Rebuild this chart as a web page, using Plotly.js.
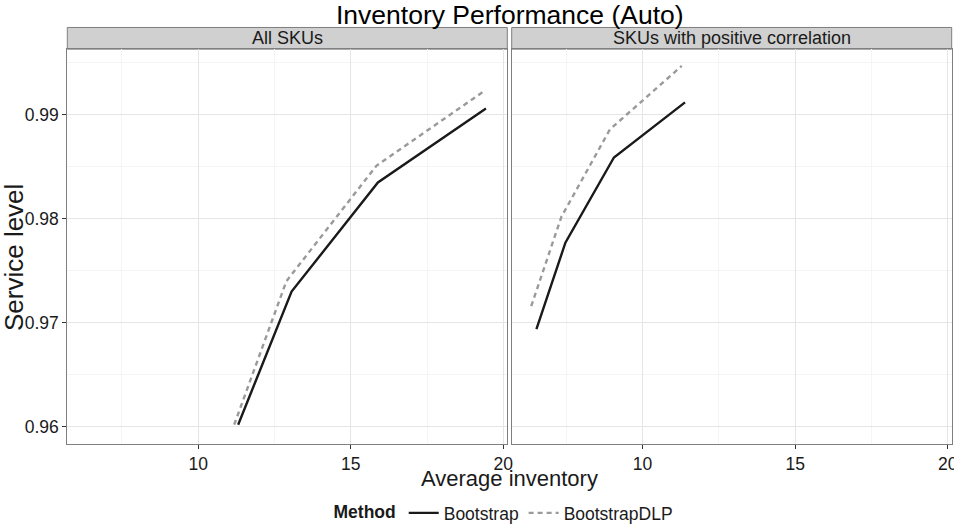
<!DOCTYPE html>
<html>
<head>
<meta charset="utf-8">
<script src="https://cdn.plot.ly/plotly-3.0.1.min.js"></script>
<style>
  html, body { margin: 0; padding: 0; background: #ffffff; }
  #chart { width: 954px; height: 531px; }
</style>
</head>
<body>
<div id="chart"></div>
<script>
// Facet labels and methods
const panels = ["All SKUs", "SKUs with positive correlation"];
const methods = ["Bootstrap", "BootstrapDLP"];

// All SKUs
const allBootInv = [11.31, 13.06, 15.89, 19.43];
const allBootSL  = [0.9602, 0.9730, 0.9835, 0.9906];
const allDlpInv  = [11.18, 12.89, 15.84, 19.38];
const allDlpSL   = [0.9602, 0.9740, 0.9851, 0.9923];

// SKUs with positive correlation
const posBootInv = [6.52, 7.47, 9.06, 11.39];
const posBootSL  = [0.9694, 0.9777, 0.9859, 0.9912];
const posDlpInv  = [6.35, 7.34, 8.93, 11.28];
const posDlpSL   = [0.9716, 0.9802, 0.9886, 0.9947];

// Axis ticks
const xTicks = [10, 15, 20];
const yTicks = [0.96, 0.97, 0.98, 0.99];
const yTickText = ["0.96", "0.97", "0.98", "0.99"];

const FONT = "Liberation Sans, Arial, sans-serif";
const TXT = "#1a1a1a";

const bootStyle = { color: "#1a1a1a", width: 2.4 };
const dlpStyle  = { color: "#9a9a9a", width: 2.4, dash: "5px,4px" };

const traces = [
  { x: allBootInv, y: allBootSL, xaxis: "x", yaxis: "y", name: methods[0],
    legendgroup: "b", showlegend: true, mode: "lines", line: bootStyle },
  { x: allDlpInv, y: allDlpSL, xaxis: "x", yaxis: "y", name: methods[1],
    legendgroup: "d", showlegend: true, mode: "lines", line: dlpStyle },
  { x: posBootInv, y: posBootSL, xaxis: "x2", yaxis: "y2", name: methods[0],
    legendgroup: "b", showlegend: false, mode: "lines", line: bootStyle },
  { x: posDlpInv, y: posDlpSL, xaxis: "x2", yaxis: "y2", name: methods[1],
    legendgroup: "d", showlegend: false, mode: "lines", line: dlpStyle }
];

const W = 954, H = 531;
const px = v => v / W;
const py = v => 1 - v / H;

const panelTop = 49.5, panelBot = 447.3, stripTop = 27.7;
const leftL = 67.3, leftR = 507.3, rightL = 511.7, rightR = 951.7;

const xRange = [5.71, 20.13];
const yRange = [0.95835, 0.99632];

function xAxis(dom) {
  return {
    domain: dom, range: xRange, tickvals: xTicks, ticktext: xTicks.map(String),
    ticks: "outside", ticklen: 4, tickcolor: "#333333", tickwidth: 1,
    ticklabeloverflow: "allow",
    showline: true, mirror: true, linecolor: "#7f7f7f", linewidth: 1,
    showgrid: true, gridcolor: "#e5e5e5", gridwidth: 1, zeroline: false,
    minor: { tickvals: [7.5, 12.5, 17.5], showgrid: true, gridcolor: "#f5f5f5", gridwidth: 1, ticks: "" },
    tickfont: { family: FONT, size: 17.5, color: TXT }, fixedrange: true
  };
}
function yAxis(anchor, showLabels) {
  return {
    domain: [py(panelBot), py(panelTop)], range: yRange, anchor: anchor,
    tickvals: yTicks, ticktext: yTickText, showticklabels: showLabels,
    ticks: showLabels ? "outside" : "", ticklen: 4, tickcolor: "#333333", tickwidth: 1,
    showline: true, mirror: true, linecolor: "#7f7f7f", linewidth: 1,
    showgrid: true, gridcolor: "#e5e5e5", gridwidth: 1, zeroline: false,
    minor: { tickvals: [0.965, 0.975, 0.985, 0.995], showgrid: true, gridcolor: "#f5f5f5", gridwidth: 1, ticks: "" },
    tickfont: { family: FONT, size: 17.5, color: TXT }, fixedrange: true
  };
}

const layout = {
  width: W, height: H,
  margin: { l: 0, r: 0, t: 0, b: 0 },
  paper_bgcolor: "#ffffff", plot_bgcolor: "#ffffff",
  font: { family: FONT, color: TXT },
  xaxis: Object.assign(xAxis([px(leftL), px(leftR)]), { anchor: "y" }),
  xaxis2: Object.assign(xAxis([px(rightL), px(rightR)]), { anchor: "y2" }),
  yaxis: yAxis("x", true),
  yaxis2: yAxis("x2", false),
  showlegend: true,
  legend: {
    orientation: "h", x: px(505), xanchor: "center",
    y: py(517), yanchor: "middle",
    title: { text: "<b>Method</b>", side: "left", font: { family: FONT, size: 17.5, color: TXT } },
    font: { family: FONT, size: 17.5, color: TXT },
    itemwidth: 30, tracegroupgap: 0, bgcolor: "rgba(0,0,0,0)"
  },
  shapes: [
    { type: "rect", xref: "paper", yref: "paper",
      x0: px(leftL), x1: px(leftR), y0: py(panelTop), y1: py(stripTop),
      fillcolor: "#d0d0d0", line: { color: "#7f7f7f", width: 1 }, layer: "below" },
    { type: "rect", xref: "paper", yref: "paper",
      x0: px(rightL), x1: px(rightR), y0: py(panelTop), y1: py(stripTop),
      fillcolor: "#d0d0d0", line: { color: "#7f7f7f", width: 1 }, layer: "below" }
  ],
  annotations: [
    { text: "Inventory Performance (Auto)", xref: "paper", yref: "paper",
      x: px((leftL + rightR) / 2), y: py(15.5), xanchor: "center", yanchor: "middle",
      showarrow: false, font: { family: FONT, size: 26.5, color: "#000000" } },
    { text: panels[0], xref: "paper", yref: "paper",
      x: px((leftL + leftR) / 2), y: py((stripTop + panelTop) / 2), xanchor: "center", yanchor: "middle",
      showarrow: false, font: { family: FONT, size: 18, color: TXT } },
    { text: panels[1], xref: "paper", yref: "paper",
      x: px((rightL + rightR) / 2), y: py((stripTop + panelTop) / 2), xanchor: "center", yanchor: "middle",
      showarrow: false, font: { family: FONT, size: 18, color: TXT } },
    { text: "Average inventory", xref: "paper", yref: "paper",
      x: px((leftL + rightR) / 2), y: py(482), xanchor: "center", yanchor: "middle",
      showarrow: false, font: { family: FONT, size: 22, color: TXT } },
    { text: "Service level", xref: "paper", yref: "paper", textangle: -90,
      x: px(14), y: py(260), xanchor: "center", yanchor: "middle",
      showarrow: false, font: { family: FONT, size: 26, color: TXT } }
  ]
};

Plotly.newPlot("chart", traces, layout, { staticPlot: true, displayModeBar: false });
</script>
</body>
</html>
